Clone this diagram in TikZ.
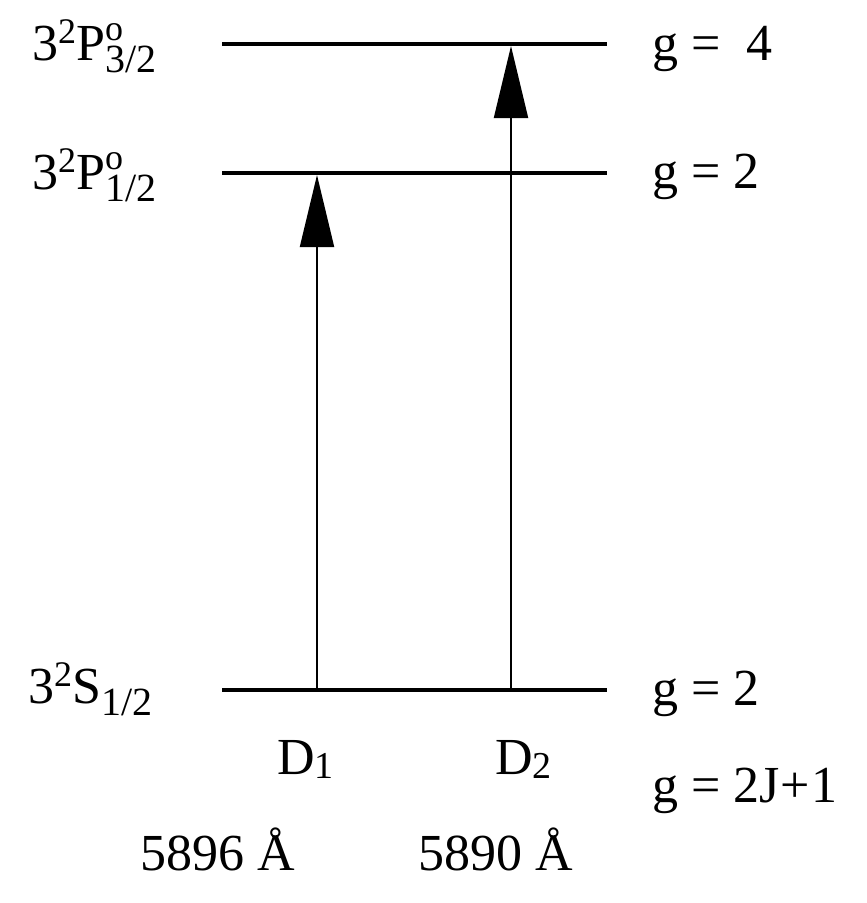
\documentclass[tikz,border=0pt]{standalone}
\usepackage{fontspec}
\setmainfont{Liberation Serif}
\usetikzlibrary{arrows.meta}
\newcommand{\lvlsup}[1]{\raisebox{17pt}{\fontsize{36}{40}\selectfont #1}}
\newcommand{\lvlsub}[1]{\raisebox{-12pt}{\fontsize{40}{40}\selectfont #1}}
\newcommand{\lvlsupsub}[2]{\makebox[0pt][l]{\raisebox{20pt}{\fontsize{36}{40}\selectfont #1}}\raisebox{-12pt}{\fontsize{40}{40}\selectfont #2}}
\newcommand{\lsub}[1]{\raisebox{-4pt}{\fontsize{38}{40}\selectfont #1}}
\begin{document}
\begin{tikzpicture}[x=1pt,y=-1pt,
  level/.style={line width=4pt},
  trans/.style={line width=2pt,-{Triangle[width=34pt,length=72pt]}},
  lbl/.style={anchor=base west,inner sep=0pt,font=\fontsize{52}{60}\selectfont}]
\useasboundingbox (0,0) rectangle (867,903);
% levels
\coordinate (p3l) at (222,44);  \coordinate (p3r) at (607,44);
\coordinate (p1l) at (222,173); \coordinate (p1r) at (607,173);
\coordinate (s1l) at (222,690); \coordinate (s1r) at (607,690);
\draw[level] (p3l) -- (p3r);
\draw[level] (p1l) -- (p1r);
\draw[level] (s1l) -- (s1r);
% transitions
\coordinate (d1b) at (317,690); \coordinate (d1t) at (317,175);
\coordinate (d2b) at (511,690); \coordinate (d2t) at (511,46);
\draw[trans] (d1b) -- (d1t);
\draw[trans] (d2b) -- (d2t);
% level labels
\node[lbl] (lp3) at (32,60) {3\lvlsup{2}P\lvlsupsub{o}{3/2}};
\node[lbl] (lp1) at (32,189) {3\lvlsup{2}P\lvlsupsub{o}{1/2}};
\node[lbl] (ls1) at (28,703) {3\lvlsup{2}S\lvlsub{1/2}};
% degeneracies
\node[lbl] (g4) at (652,60) {g =\ \ 4};
\node[lbl] (g2a) at (652,188) {g = 2};
\node[lbl] (g2b) at (652,705) {g = 2};
\node[lbl] (gj) at (652,802) {g = 2J\kern1pt+\kern1pt1};
% line names
\node[lbl] (nd1) at (277,774) {D\lsub{1}};
\node[lbl] (nd2) at (495,774) {D\lsub{2}};
\node[lbl] (w1) at (140,870) {5896 Å};
\node[lbl] (w2) at (418,870) {5890 Å};
\end{tikzpicture}
\end{document}
